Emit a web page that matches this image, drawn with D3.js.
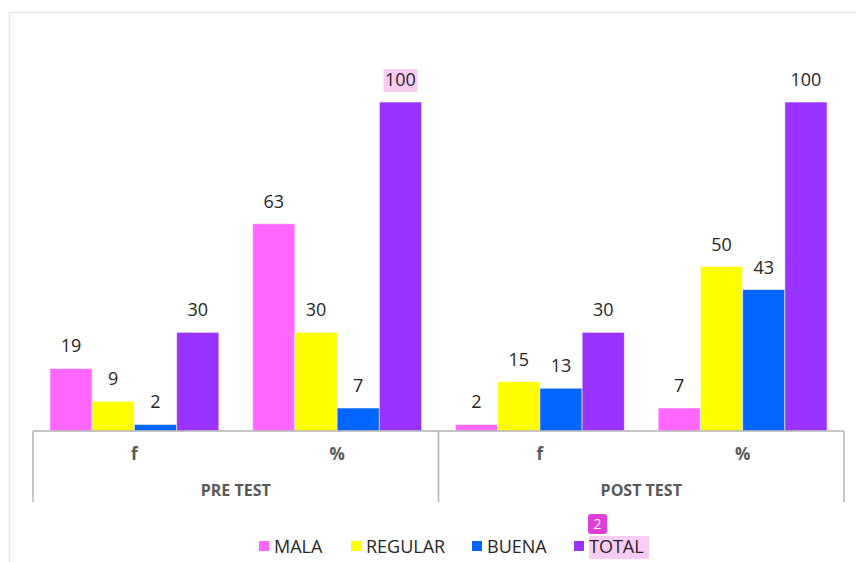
<!DOCTYPE html>
<html>
<head>
<meta charset="utf-8">
<script src="https://cdn.jsdelivr.net/npm/d3@7"></script>
<style>
	body { margin: 0; background: white; }
	text { font-family: "Open Sans", "Noto Sans", sans-serif; }
</style>
</head>
<body>
<svg id="chart" width="856" height="562"></svg>
<script>
// data
var tests = ["PRE TEST", "POST TEST"];
var measures = ["f", "%"];
var series = ["MALA", "REGULAR", "BUENA", "TOTAL"];
var colors = ["#ff66ff", "#ffff00", "#0066ff", "#9933ff"];
var preF = [19, 9, 2, 30];
var prePct = [63, 30, 7, 100];
var postF = [2, 15, 13, 30];
var postPct = [7, 50, 43, 100];

window.onload = init;

function init() {
	var svg = d3.select("#chart");
	var margin = { left: 33, right: 12, top: 102, bottom: 431 };

	var cats = [];
	var rows = [preF, prePct, postF, postPct];
	tests.forEach(function(t, i) {
		measures.forEach(function(m, j) {
			cats.push({ test: t, measure: m, key: t + "|" + m, values: rows[i * 2 + j] });
		});
	});

	// outer frame
	svg.append("rect")
		.attr("x", 9.5).attr("y", 12.5)
		.attr("width", 900).attr("height", 600)
		.attr("fill", "none").attr("stroke", "#e6e6e6").attr("stroke-width", 1.5);

	var x0 = d3.scaleBand()
		.domain(cats.map(function(d) { return d.key; }))
		.range([margin.left, 844])
		.paddingInner(0).paddingOuter(0);
	var x1 = d3.scaleBand()
		.domain(series)
		.range([0, x0.bandwidth()])
		.paddingOuter(0.4).paddingInner(0);
	var y = d3.scaleLinear()
		.domain([0, 100])
		.range([431, 102]);

	var groups = svg.append("g").selectAll("g.cat")
		.data(cats).enter().append("g")
		.attr("class", "cat")
		.attr("transform", function(d) { return "translate(" + x0(d.key) + ",0)"; });

	groups.selectAll("rect")
		.data(function(d) { return d.values.map(function(v, i) { return { s: series[i], v: v, c: colors[i], key: d.key }; }); })
		.enter().append("rect")
		.attr("x", function(d) { return x1(d.s); })
		.attr("y", function(d) { return y(d.v); })
		.attr("width", x1.bandwidth())
		.attr("height", function(d) { return y(0) - y(d.v); })
		.attr("fill", function(d) { return d.c; })
		.attr("stroke", "rgba(255,255,255,0.6)")
		.attr("stroke-width", 1);

	// highlight behind the PRE TEST % total label
	groups.filter(function(d) { return d.key === "PRE TEST|%"; })
		.append("rect")
		.attr("x", x1("TOTAL") + x1.bandwidth() / 2 - 17)
		.attr("y", y(100) - 33)
		.attr("width", 34).attr("height", 23)
		.attr("fill", "#f9cdf3");

	groups.selectAll("text.val")
		.data(function(d) { return d.values.map(function(v, i) { return { s: series[i], v: v }; }); })
		.enter().append("text")
		.attr("class", "val")
		.attr("x", function(d) { return x1(d.s) + x1.bandwidth() / 2; })
		.attr("y", function(d) { return y(d.v) - 16; })
		.attr("text-anchor", "middle")
		.attr("font-size", 18)
		.attr("fill", "#262626")
		.text(function(d) { return d.v; });

	// axis lines
	var axis = svg.append("g").attr("stroke", "#b3b3b3").attr("stroke-width", 1.5);
	axis.append("line")
		.attr("x1", margin.left).attr("x2", 844)
		.attr("y1", 431).attr("y2", 431);
	var splits = [margin.left, x0(cats[2].key), x0(cats[3].key) + x0.bandwidth()];
	axis.selectAll("line.split").data(splits).enter().append("line")
		.attr("class", "split")
		.attr("x1", function(d) { return d; }).attr("x2", function(d) { return d; })
		.attr("y1", 431).attr("y2", 502);

	svg.append("g").selectAll("text")
		.data(cats).enter().append("text")
		.attr("x", function(d) { return x0(d.key) + x0.bandwidth() / 2; })
		.attr("y", 460)
		.attr("text-anchor", "middle")
		.attr("font-size", 17).attr("font-weight", "bold")
		.attr("fill", "#595959")
		.text(function(d) { return d.measure; });

	svg.append("g").selectAll("text")
		.data(tests).enter().append("text")
		.attr("x", function(d, i) { return (x0(cats[i * 2].key) + x0(cats[i * 2 + 1].key) + x0.bandwidth()) / 2; })
		.attr("y", 496)
		.attr("text-anchor", "middle")
		.attr("font-size", 16).attr("font-weight", "bold")
		.attr("fill", "#595959")
		.text(function(d) { return d; });

	// legend
	var legX = [259, 351, 472, 574];
	var leg = svg.append("g").selectAll("g")
		.data(series).enter().append("g")
		.attr("transform", function(d, i) { return "translate(" + legX[i] + ",541)"; });
	leg.filter(function(d) { return d === "TOTAL"; })
		.append("rect")
		.attr("x", 15).attr("y", -5).attr("width", 60).attr("height", 23)
		.attr("fill", "#f9cdf3");
	leg.append("rect")
		.attr("width", 10).attr("height", 10)
		.attr("fill", function(d, i) { return colors[i]; });
	leg.append("text")
		.attr("x", 15).attr("y", 12)
		.attr("font-size", 18)
		.attr("fill", "#262626")
		.text(function(d) { return d; });

	// badge
	var badge = svg.append("g").attr("transform", "translate(588,514)");
	badge.append("rect")
		.attr("width", 19).attr("height", 20).attr("rx", 3)
		.attr("fill", "#e03fd8");
	badge.append("text")
		.attr("x", 9.5).attr("y", 15)
		.attr("text-anchor", "middle")
		.attr("font-size", 14).attr("fill", "white")
		.text("2");
}
</script>
</body>
</html>
